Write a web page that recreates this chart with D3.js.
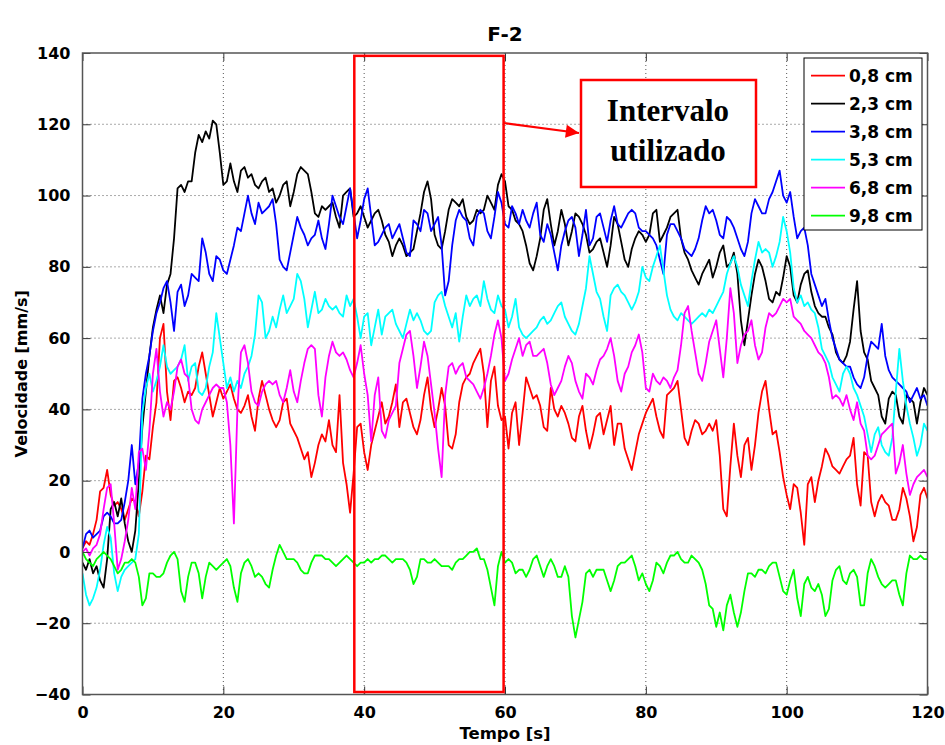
<!DOCTYPE html>
<html>
<head>
<meta charset="utf-8">
<script src="https://cdn.jsdelivr.net/npm/d3@7"></script>
<style>
  body { margin: 0; background: #fff; }
  text { font-family: "DejaVu Sans", Arial, sans-serif; font-weight: bold; }
</style>
</head>
<body>
<script>

  // sample times, every 0.5 s from 0 to 120
  const times = d3.range(0, 120.001, 0.5);

  const seriesNames = ["0,8 cm", "2,3 cm", "3,8 cm", "5,3 cm", "6,8 cm", "9,8 cm"];
  const seriesColors = ["#ff0000", "#000000", "#0000ff", "#00ffff", "#ff00ff", "#00ff00"];

  const v08 = [
    1,3,2,5,9,17,18,23,16,13,
    14,12,9,12,15,14,10,17,27,26,
    35,42,60,64,45,37,48,49,46,42,
    45,44,46,52,56,50,44,38,42,46,
    43,45,47,43,40,39,41,44,38,34,
    43,48,44,40,37,35,37,42,43,36,
    34,32,29,26,28,21,25,30,33,31,
    37,30,28,44,25,19,11,22,35,36,
    28,23,30,34,38,42,36,38,42,47,
    35,42,43,39,35,33,37,44,49,40,
    35,40,46,41,30,29,33,42,47,49,
    50,53,55,57,50,35,48,52,41,37,
    38,29,39,42,30,39,49,46,43,44,
    41,35,34,46,40,38,41,39,36,32,
    31,38,41,34,29,33,38,39,33,37,
    41,30,36,36,29,26,23,28,33,36,
    39,41,43,38,34,32,44,45,46,48,
    40,32,30,34,37,36,33,34,36,34,
    37,27,12,10,24,36,27,21,30,32,
    23,30,39,45,48,40,33,34,28,21,
    16,12,19,18,11,2,19,21,14,20,
    24,29,27,24,23,22,24,26,27,32,
    19,13,28,27,14,10,14,16,14,13,
    9,9,12,18,15,10,3,7,16,18,
    15
  ];

  const v23 = [
    -3,-5,-2,-6,-4,-8,-10,-2,12,14,
    10,15,8,3,0,6,20,35,45,55,
    63,68,72,67,75,78,88,102,103,101,
    104,104,112,117,115,118,116,121,120,112,
    103,104,109,104,101,107,108,105,106,103,
    102,104,105,101,102,98,100,103,104,97,
    101,106,108,107,106,101,95,94,97,96,
    97,98,94,91,100,101,102,94,95,97,
    94,91,93,95,96,93,89,87,83,86,
    88,86,83,84,85,90,95,101,104,99,
    89,86,85,90,96,99,98,97,99,94,
    92,93,96,95,96,100,98,96,103,106,
    104,97,96,93,92,90,86,81,79,83,
    88,96,99,92,86,90,96,92,86,90,
    95,94,92,89,84,85,87,88,84,80,
    86,94,92,87,82,80,85,88,90,89,
    87,89,95,96,87,89,91,94,95,96,
    88,84,82,79,77,75,78,80,82,77,
    80,84,86,80,81,84,78,65,58,65,
    72,78,82,80,76,71,70,73,72,77,
    83,80,72,70,75,78,79,73,69,67,
    66,66,63,61,56,54,53,55,59,68,
    76,62,56,54,48,46,44,38,36,43,
    45,44,38,36,44,43,42,36,42,46,
    44
  ];

  const v38 = [
    1,5,6,4,5,6,10,11,10,8,
    8,9,14,20,30,19,25,43,50,55,
    62,67,70,74,76,70,62,73,75,69,
    72,78,77,76,88,84,78,76,83,82,
    79,78,82,86,91,90,95,100,95,92,
    98,95,96,97,99,92,82,80,79,84,
    89,94,91,89,86,88,89,93,88,85,
    92,100,97,94,92,97,102,95,88,93,
    99,102,94,86,87,89,91,92,88,90,
    92,88,84,83,93,92,90,96,95,90,
    92,94,86,72,76,86,93,96,94,93,
    88,86,94,96,95,90,88,94,101,98,
    92,91,97,95,92,96,93,91,95,98,
    89,87,92,89,84,79,86,90,93,94,
    91,83,89,96,86,88,94,95,91,87,
    93,97,92,91,93,95,96,95,91,90,
    90,89,88,86,82,78,89,92,92,90,
    88,85,84,83,85,88,93,97,95,96,
    93,89,88,94,93,91,88,85,83,87,
    95,99,97,95,95,99,101,104,107,100,
    98,101,94,88,90,91,86,78,75,72,
    69,71,65,60,57,54,53,52,52,49,
    47,46,49,55,59,58,57,64,55,51,
    49,48,47,46,45,42,44,46,43,44,
    41
  ];

  const v53 = [
    -6,-12,-15,-13,-10,-5,2,7,4,-6,
    -11,-7,-5,-4,-3,-2,5,39,46,50,
    45,48,52,58,52,50,51,52,54,58,
    48,52,53,45,44,46,52,56,67,60,
    53,46,49,45,48,46,50,52,55,61,
    72,70,60,62,66,63,68,72,67,69,
    71,78,76,71,63,68,73,67,68,71,
    69,68,69,67,66,72,69,71,66,60,
    66,67,58,63,68,61,66,67,68,64,
    62,60,64,68,65,67,65,62,61,62,
    70,72,73,69,66,63,67,59,66,72,
    69,71,72,69,76,71,68,67,72,69,
    68,63,66,71,63,61,60,61,62,63,
    65,66,64,65,67,69,70,66,64,62,
    61,64,69,74,83,78,73,71,66,62,
    72,74,75,73,72,70,68,70,73,80,
    77,76,80,83,86,79,72,68,66,65,
    67,66,65,64,65,66,67,66,68,67,
    69,71,73,78,81,83,80,75,72,69,
    76,82,87,84,85,84,80,83,87,94,
    90,84,74,70,72,69,70,68,67,63,
    57,55,53,49,47,45,50,52,50,46,
    44,41,38,33,28,33,35,30,28,27,
    32,45,57,48,41,36,32,27,30,36,
    34
  ];

  const v68 = [
    0,1,-1,1,2,5,12,18,19,8,
    -5,-2,3,9,18,12,28,29,23,34,
    50,57,45,38,42,40,45,52,54,50,
    49,40,37,36,40,42,44,46,47,46,
    46,42,30,8,40,56,58,53,45,42,
    41,45,47,48,47,48,44,42,46,51,
    45,42,48,53,57,58,57,44,38,49,
    55,59,56,55,56,54,51,49,53,58,
    50,44,31,44,49,34,32,37,39,41,
    53,57,61,62,55,46,52,59,55,47,
    39,29,21,44,52,53,50,52,53,49,
    48,47,45,43,46,50,55,61,65,60,
    48,50,54,57,60,55,58,59,55,55,
    56,57,53,47,44,46,48,52,55,53,
    48,45,43,50,49,47,51,54,55,57,
    60,55,48,45,50,52,56,58,61,56,
    46,45,50,48,47,49,48,46,49,51,
    58,67,69,62,56,50,48,53,59,62,
    65,57,49,60,74,67,53,58,61,62,
    65,58,54,56,63,67,66,67,69,71,
    70,71,66,65,64,62,61,60,58,56,
    55,53,49,43,44,43,41,44,40,37,
    42,36,34,27,26,27,30,33,34,35,
    36,22,25,30,22,16,19,21,22,23,
    21
  ];

  const v98 = [
    0,-2,-3,-4,-2,-1,0,-1,-2,-4,
    -6,-5,-3,-3,-2,-3,-7,-15,-13,-6,
    -6,-7,-7,-6,-3,-1,0,-2,-11,-14,
    -7,-3,-3,-6,-13,-7,-3,-4,-5,-4,
    -3,-2,-4,-10,-14,-6,-3,-2,-4,-7,
    -6,-7,-9,-10,-5,-1,2,0,-2,-2,
    -2,-3,-5,-6,-6,-3,-1,-1,-1,-2,
    -2,-3,-4,-3,-2,-1,-2,-3,-4,-3,
    -3,-2,-3,-2,-2,-1,-1,-2,-3,-2,
    -2,-2,-3,-5,-9,-7,-2,-2,-3,-3,
    -2,-3,-4,-4,-4,-5,-3,-2,-2,-1,
    0,0,1,-2,-2,-5,-10,-15,-4,0,
    -3,-2,-3,-6,-5,-5,-7,-5,-2,-1,
    -4,-7,-4,-2,-4,-7,-7,-4,-7,-18,
    -24,-19,-14,-6,-5,-7,-5,-5,-5,-8,
    -11,-8,-4,-3,-3,-2,-1,-4,-8,-6,
    -9,-11,-8,-3,-4,-6,-3,-1,-1,0,
    -2,-3,-3,-1,-2,-3,-5,-9,-15,-16,
    -21,-17,-22,-15,-12,-17,-21,-17,-11,-6,
    -6,-7,-5,-5,-6,-4,-3,-3,-7,-11,
    -12,-8,-5,-13,-18,-9,-7,-10,-11,-9,
    -12,-18,-16,-8,-5,-4,-8,-9,-6,-5,
    -7,-15,-15,-6,-2,-4,-7,-9,-10,-9,
    -8,-8,-12,-15,-6,-1,-2,-2,-1,-2,
    -2
  ];

  const seriesValues = [v08, v23, v38, v53, v68, v98];

  const xTicks = [0, 20, 40, 60, 80, 100, 120];
  const yTicks = [-40, -20, 0, 20, 40, 60, 80, 100, 120, 140];

  // highlighted interval (s) and its vertical extent
  const intervalo = {t0: 38.6, t1: 59.8, v0: -39.3, v1: 139.2};

  const margin = {top: 53, right: 17.5, bottom: 50.5, left: 82.5};
  const W = 945, H = 745;
  const width = W - margin.left - margin.right;
  const height = H - margin.top - margin.bottom;

  const root = d3.select('body')
    .append('svg')
    .attr('width', W)
    .attr('height', H);

  const svg = root.append('g')
    .attr('transform', 'translate(' + margin.left + ',' + margin.top + ')');

  let x = d3.scaleLinear()
      .domain([0, 120])
      .range([0, width]);

  let y = d3.scaleLinear()
      .domain([-40, 140])
      .range([height, 0]);

  svg.append('clipPath').attr('id', 'plotclip')
    .append('rect')
      .attr('width', width)
      .attr('height', height);

  // dotted grid
  svg.append('g')
    .selectAll('line')
    .data(xTicks.slice(1, -1))
    .enter().append('line')
      .attr('x1', d => x(d)).attr('x2', d => x(d))
      .attr('y1', 0).attr('y2', height)
      .attr('stroke', '#555')
      .attr('stroke-dasharray', '1,3');

  svg.append('g')
    .selectAll('line')
    .data(yTicks.slice(1, -1))
    .enter().append('line')
      .attr('y1', d => y(d)).attr('y2', d => y(d))
      .attr('x1', 0).attr('x2', width)
      .attr('stroke', '#555')
      .attr('stroke-dasharray', '1,3');

  let line = d3.line()
      .x(function(d, i) { return x(times[i]); })
      .y(function(d) { return y(d); });

  svg.append('g')
    .attr('clip-path', 'url(#plotclip)')
    .selectAll('.serie')
    .data(seriesValues)
    .enter().append('path')
      .attr('class', 'serie')
      .attr('d', d => line(d))
      .attr('fill', 'none')
      .attr('stroke', (d, i) => seriesColors[i])
      .attr('stroke-width', 1.8)
      .attr('stroke-linejoin', 'round');

  // axes: MATLAB style box with inward ticks
  const tickLen = 8;
  svg.append('g')
    .attr('transform', 'translate(0,' + height + ')')
    .call(d3.axisBottom(x).tickValues(xTicks).tickSizeInner(-tickLen).tickSizeOuter(0).tickPadding(12))
    .call(g => g.select('.domain').remove());
  svg.append('g')
    .call(d3.axisTop(x).tickValues(xTicks).tickSizeInner(-tickLen).tickSizeOuter(0).tickFormat(''))
    .call(g => g.select('.domain').remove());
  svg.append('g')
    .call(d3.axisLeft(y).tickValues(yTicks).tickSizeInner(-tickLen).tickSizeOuter(0).tickPadding(12))
    .call(g => g.select('.domain').remove());
  svg.append('g')
    .attr('transform', 'translate(' + width + ',0)')
    .call(d3.axisRight(y).tickValues(yTicks).tickSizeInner(-tickLen).tickSizeOuter(0).tickFormat(''))
    .call(g => g.select('.domain').remove());

  svg.selectAll('.tick line').attr('stroke', '#333').attr('stroke-width', 1);
  svg.selectAll('.tick text')
    .attr('font-family', '"DejaVu Sans", Arial, sans-serif')
    .attr('font-weight', 'bold')
    .attr('font-size', '16px')
    .attr('fill', '#000');

  svg.append('rect')
    .attr('width', width)
    .attr('height', height)
    .attr('fill', 'none')
    .attr('stroke', '#555')
    .attr('stroke-width', 1.5);

  // interval rectangle
  svg.append('rect')
    .attr('x', x(intervalo.t0))
    .attr('y', y(intervalo.v1))
    .attr('width', x(intervalo.t1) - x(intervalo.t0))
    .attr('height', y(intervalo.v0) - y(intervalo.v1))
    .attr('fill', 'none')
    .attr('stroke', '#ff0000')
    .attr('stroke-width', 2.5);

  // annotation box + arrow (page coordinates)
  root.append('defs').append('marker')
    .attr('id', 'head')
    .attr('viewBox', '0 0 10 10')
    .attr('refX', 10).attr('refY', 5)
    .attr('markerWidth', 7).attr('markerHeight', 6)
    .attr('markerUnits', 'strokeWidth')
    .attr('orient', 'auto')
    .append('path')
      .attr('d', 'M0,0L10,5L0,10Z')
      .attr('fill', '#ff0000');

  root.append('line')
    .attr('x1', 504).attr('y1', 123)
    .attr('x2', 579).attr('y2', 133)
    .attr('stroke', '#ff0000')
    .attr('stroke-width', 2.2)
    .attr('marker-end', 'url(#head)');

  root.append('rect')
    .attr('x', 581).attr('y', 80)
    .attr('width', 175).attr('height', 107)
    .attr('fill', '#fff')
    .attr('stroke', '#ff0000')
    .attr('stroke-width', 2.5);

  root.append('text')
    .attr('x', 668).attr('y', 121)
    .attr('text-anchor', 'middle')
    .attr('font-size', '31px')
    .style('font-family', '"Liberation Serif", "Times New Roman", serif')
    .text('Intervalo');

  root.append('text')
    .attr('x', 668).attr('y', 161)
    .attr('text-anchor', 'middle')
    .attr('font-size', '31px')
    .style('font-family', '"Liberation Serif", "Times New Roman", serif')
    .text('utilizado');

  // legend
  const legend = root.append('g').attr('transform', 'translate(804,58)');
  legend.append('rect')
    .attr('width', 118).attr('height', 172)
    .attr('fill', '#fff')
    .attr('stroke', '#000')
    .attr('stroke-width', 1);

  const rows = legend.selectAll('.leg')
    .data(seriesNames)
    .enter().append('g')
      .attr('class', 'leg')
      .attr('transform', (d, i) => 'translate(0,' + (17.7 + i * 28) + ')');
  rows.append('line')
    .attr('x1', 7).attr('x2', 41)
    .attr('stroke', (d, i) => seriesColors[i])
    .attr('stroke-width', 1.8);
  rows.append('text')
    .attr('x', 45)
    .attr('dy', '0.36em')
    .attr('font-size', '17px')
    .text(d => d);

  // titles
  root.append('text')
    .attr('x', margin.left + width / 2)
    .attr('y', 41)
    .attr('text-anchor', 'middle')
    .attr('font-size', '20px')
    .text('F-2');

  root.append('text')
    .attr('x', margin.left + width / 2)
    .attr('y', 739)
    .attr('text-anchor', 'middle')
    .attr('font-size', '16.5px')
    .text('Tempo [s]');

  root.append('text')
    .attr('transform', 'translate(27,' + (margin.top + height / 2) + ') rotate(-90)')
    .attr('text-anchor', 'middle')
    .attr('font-size', '16px')
    .text('Velocidade [mm/s]');

</script>
</body>
</html>
